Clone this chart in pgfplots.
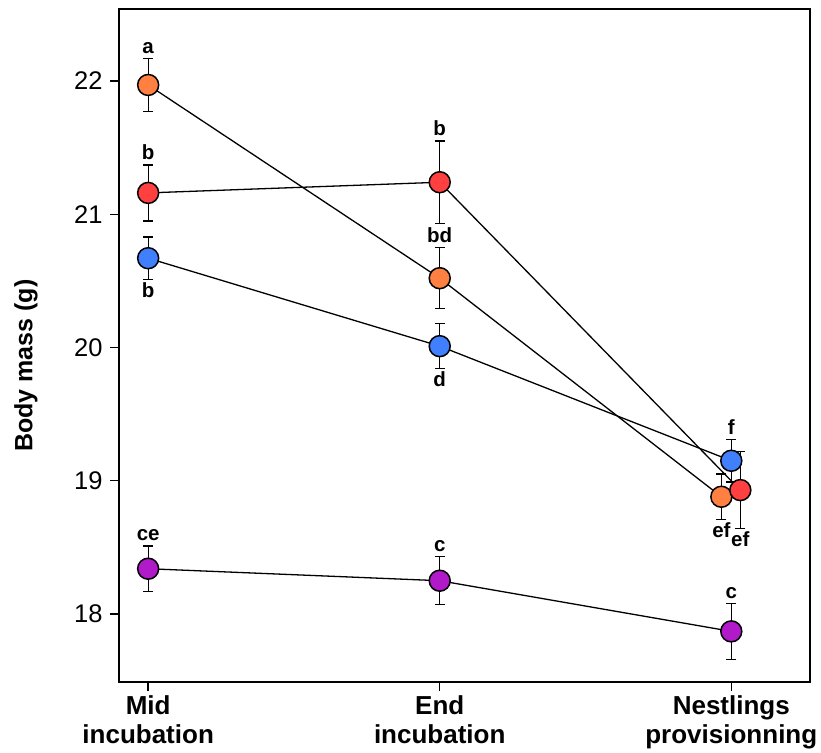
\documentclass[border=0pt]{standalone}
\usepackage{pgfplots}
\pgfplotsset{compat=1.18}
\usepackage{fontspec}
\setmainfont{Liberation Sans}
\definecolor{corange}{RGB}{255,128,64}
\definecolor{cred}{RGB}{255,64,64}
\definecolor{cblue}{RGB}{64,128,255}
\definecolor{cpurple}{RGB}{176,26,200}
\begin{document}
\begin{tikzpicture}
\begin{axis}[
  scale only axis,
  width=691pt, height=673pt,
  xmin=-0.1, xmax=2.27,
  ymin=17.49, ymax=22.54,
  axis line style={line width=1.6pt},
  xtick={0,1,2},
  xticklabels={{Mid\\incubation},{End\\incubation},{Nestlings\\provisionning}},
  ytick={18,19,20,21,22},
  tick align=outside,
  xtick pos=bottom, ytick pos=left,
  major tick length=9pt,
  every tick/.style={black, line width=1.4pt},
  /pgf/number format/assume math mode=true,
  yticklabel style={font=\fontsize{25.5}{30}\selectfont, xshift=-4pt},
  xticklabel style={font=\bfseries\fontsize{26}{29.5}\selectfont, align=center, yshift=-1pt},
  ylabel={Body mass (g)},
  ylabel style={font=\bfseries\fontsize{25}{29}\selectfont, at={(axis description cs:-0.1346,0.47)}, anchor=center},
  error bars/y dir=both, error bars/y explicit,
  error bars/error bar style={black, line width=1.3pt},
  error bars/error mark options={rotate=90, mark size=5pt, black, line width=1.3pt},
  clip=false,
]
% purple
\addplot[black, line width=1.3pt, mark=*, mark size=10.5pt, mark options={fill=cpurple, draw=black, line width=1.5pt}]
  coordinates {(0,18.34) +- (0,0.17) (1,18.25) +- (0,0.18) (2.0,17.87) +- (0,0.21)};
% blue
\addplot[black, line width=1.3pt, mark=*, mark size=10.5pt, mark options={fill=cblue, draw=black, line width=1.5pt}]
  coordinates {(0,20.67) +- (0,0.16) (1,20.01) +- (0,0.17) (2.0,19.15) +- (0,0.16)};
% orange
\addplot[black, line width=1.3pt, mark=*, mark size=10.5pt, mark options={fill=corange, draw=black, line width=1.5pt}]
  coordinates {(0,21.97) +- (0,0.20) (1,20.52) +- (0,0.23) (1.966,18.88) +- (0,0.17)};
% red
\addplot[black, line width=1.3pt, mark=*, mark size=10.5pt, mark options={fill=cred, draw=black, line width=1.5pt}]
  coordinates {(0,21.16) +- (0,0.21) (1,21.24) +- (0,0.31) (2.031,18.93) +- (0,0.29)};
% letters
\tikzset{lab/.style={font=\bfseries\fontsize{20.5}{24}\selectfont, inner sep=0pt}}
\node[lab, anchor=base, yshift=5pt] at (axis cs:0,22.17) {a};
\node[lab, anchor=base, yshift=5pt] at (axis cs:0,21.37) {b};
\node[lab, anchor=north, yshift=-3pt] at (axis cs:0,20.51) {b};
\node[lab, anchor=base, yshift=6pt] at (axis cs:0,18.51) {ce};
\node[lab, anchor=base, yshift=5pt] at (axis cs:1,21.55) {b};
\node[lab, anchor=base, yshift=5pt] at (axis cs:1,20.75) {bd};
\node[lab, anchor=north, yshift=-3pt] at (axis cs:1,19.84) {d};
\node[lab, anchor=base, yshift=5pt] at (axis cs:1,18.43) {c};
\node[lab, anchor=base, yshift=5pt] at (axis cs:2.0,19.31) {f};
\node[lab, anchor=north, yshift=-3pt] at (axis cs:1.966,18.71) {ef};
\node[lab, anchor=north, yshift=-3pt] at (axis cs:2.031,18.64) {ef};
\node[lab, anchor=base, yshift=5pt] at (axis cs:2.0,18.08) {c};
\end{axis}
\path ([shift={(-119pt,-70pt)}]current axis.south west) rectangle ([shift={(11pt,9pt)}]current axis.north east);
\end{tikzpicture}
\end{document}
